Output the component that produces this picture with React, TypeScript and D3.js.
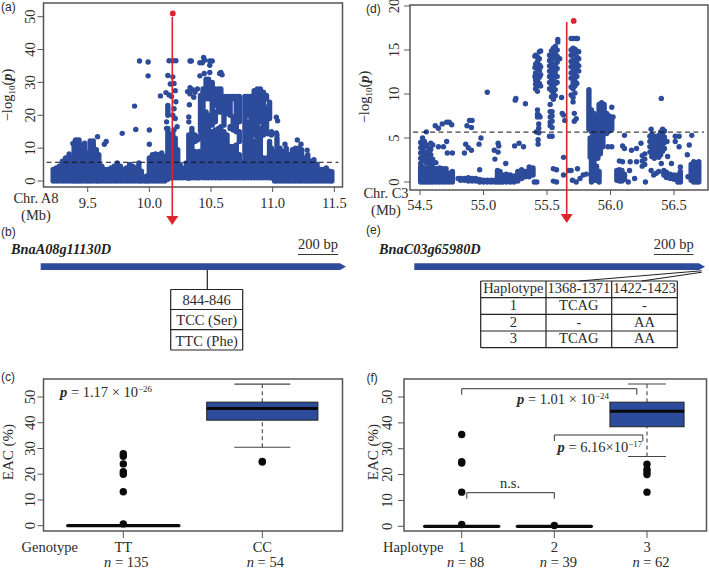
import * as d3 from 'd3';

const BLUE = '#2d4b9b';
const RED = '#d9252b';
const INK = '#2b2b2b';
const FRAME = '#555555';
const SERIF = '"Liberation Serif", serif';
const SANS = '"Liberation Sans", sans-serif';

// [position Mb, low, high] stretches where the SNP dots overplot into a solid mass
type Run = [number, number, number];
type Pt = [number, number];
// [position Mb, values] columns of single dots
type Stack = [number, number[]];

const massA: Run[] = [
  [9.22, 0, 3.5], [9.245, 0, 4], [9.27, 0, 4.5], [9.295, 0, 6], [9.32, 0, 7], [9.345, 0, 7.5], [9.37, 0, 7],
  [9.39, 0, 10.5], [9.41, 0, 12.5], [9.43, 0, 12.5], [9.45, 0, 9.5], [9.475, 0, 11.5], [9.5, 0, 8.5],
  [9.52, 0, 12.2], [9.545, 0, 12.2], [9.57, 0, 9.5], [9.59, 0, 8], [9.615, 0, 4.5], [9.64, 0, 3.5],
  [9.665, 0, 3.5], [9.69, 0, 4], [9.715, 0, 4.5], [9.74, 0, 5.5], [9.765, 0, 4.5], [9.79, 0, 3.5],
  [9.815, 0, 4], [9.84, 0, 5], [9.865, 0, 4.5], [9.89, 0, 4], [9.915, 0, 5.5], [9.935, 0, 3], [9.96, 0, 1.2],
  [9.98, 0, 1.5], [10.0, 0, 7], [10.025, 0, 8], [10.05, 0, 8.2], [10.075, 0, 8], [10.1, 0, 8.5], [10.125, 0, 7.5],
  [10.15, 0.5, 16], [10.17, 1, 14], [10.19, 1, 14.5], [10.21, 1, 13], [10.23, 1, 9.5], [10.25, 1, 5],
  [10.275, 1, 3.8], [10.3, 1, 5.5], [10.32, 0.8, 14], [10.345, 1, 16], [10.37, 1, 9], [10.37, 12, 14],
  [10.39, 1, 8], [10.39, 12.5, 13.5], [10.405, 1, 9], [10.41, 13, 13.5], [10.415, 15, 26], [10.435, 1, 28], [10.46, 1, 21], [10.46, 25, 31],
  [10.48, 1, 20], [10.48, 25, 31], [10.51, 1, 15], [10.51, 17, 30], [10.535, 1, 15.5], [10.535, 18, 21], [10.535, 23, 28],
  [10.56, 1, 16], [10.56, 21, 28], [10.58, 1, 16.5], [10.58, 21, 28], [10.605, 1, 15], [10.605, 17, 25.7],
  [10.63, 1, 14], [10.63, 20.5, 25.7], [10.655, 1, 10.5], [10.655, 16, 16.5], [10.655, 20, 25.7],
  [10.68, 1, 10.5], [10.68, 15.5, 19.5], [10.68, 25, 25.7], [10.705, 1, 11], [10.705, 15, 25.7],
  [10.73, 1, 8], [10.73, 12, 15], [10.73, 18, 25.7], [10.755, 1, 5.5],
  [10.775, 1, 25.7], [10.8, 1, 18], [10.8, 20, 25.7], [10.825, 1, 25.7], [10.85, 1, 12], [10.85, 14, 27.5], [10.875, 1, 28], [10.9, 1, 16],
  [10.9, 18, 28], [10.925, 1, 7], [10.925, 14, 27], [10.95, 1, 7], [10.95, 14.5, 22], [10.95, 25, 26], [10.975, 1, 12], [10.975, 19, 24],
  [10.99, 1, 10], [10.99, 14, 15], [11.005, 1, 9], [11.015, 0, 3.5], [11.035, 0, 13], [11.06, 0, 10],
  [11.085, 0, 9], [11.11, 0, 10], [11.135, 0, 8], [11.16, 0, 9.5], [11.185, 0, 10], [11.21, 0, 10],
  [11.235, 0, 9.5], [11.26, 0, 7], [11.285, 0, 8], [11.31, 0, 6], [11.335, 0, 6.5], [11.36, 0, 5],
  [11.385, 0, 3.5], [11.41, 0, 3.5], [11.435, 0, 4], [11.46, 0, 3], [11.48, 0, 2.8],
  [10.15, 20, 23],
];

const dotsA: Pt[] = [
  [9.92, 36.5], [9.99, 36.2], [9.99, 32], [9.88, 22.8], [9.89, 15.7], [9.78, 14.5], [10.0, 15.5], [10.0, 11.2],
  [9.58, 13.5], [9.65, 12], [9.635, 11.2], [9.35, 8.2], [10.09, 25.9], [10.16, 36.6], [10.19, 36.6], [10.215, 36.6],
  [10.15, 32.1], [10.19, 31.7], [10.17, 29.5], [10.2, 29.7], [10.21, 27.5], [10.135, 26.9], [10.16, 26.2],
  [10.18, 25.7], [10.215, 24.1], [10.21, 19], [10.225, 16.5], [10.2, 15.5], [10.33, 36.5], [10.34, 36.5],
  [10.41, 36], [10.44, 37.6], [10.45, 36.8], [10.49, 36.5], [10.51, 36.5], [10.43, 36], [10.49, 35.2],
  [10.41, 32], [10.445, 32.7], [10.49, 33], [10.58, 33], [10.59, 32.3], [10.57, 32.7], [10.33, 28.4], [10.35, 27.8],
  [10.31, 27.2], [10.33, 26.5], [10.36, 25.5], [10.37, 27], [10.39, 28], [10.325, 23.2], [10.32, 19.5], [10.32, 18],
  [11.03, 19.4], [11.04, 18.3], [11.035, 14], [11.03, 14.6], [11.1, 11.2], [11.2, 12.5], [11.23, 11.2], [11.28, 9.4],
  [10.96, 14.4], [10.96, 19], [10.97, 23], [9.4, 12.4], [9.38, 11.4], [9.44, 11],
  [10.14, 18], [10.14, 16], [10.2, 22], [10.19, 20],
];

const massD: Run[] = [
  [54.505, 0, 1.7], [54.525, 0, 1.7], [54.545, 0, 1.5], [54.565, 0, 1.6], [54.585, 0, 1.7], [54.605, 0, 1.6],
  [54.63, 0, 1.5], [54.655, 0, 1.6], [54.68, 0, 1.5], [54.705, 0, 1.5], [54.73, 0, 1], [54.755, 0, 1.2],
  [54.82, 0.2, 0.4], [54.85, 0.2, 0.4], [54.88, 0.1, 0.5], [54.91, 0.1, 0.4], [54.94, 0.1, 0.4], [54.97, 0, 0.3],
  [55.0, 0, 0.2], [55.03, 0, 0.2], [55.06, 0, 0.2], [55.09, 0, 0.2], [55.11, 0, 1.3], [55.13, 0, 1.2],
  [55.15, 0, 0.8], [55.18, 0, 0.9], [55.21, 0, 0.8], [55.24, 0, 0.7], [55.27, 0.1, 1.2], [55.3, 0.4, 1.4],
  [55.33, 0.6, 1.2], [55.36, 0.6, 1.7], [55.39, 0.8, 1.6],
  [55.83, 6, 10.5], [55.85, 5.7, 8.2], [55.87, 5.5, 7.8], [55.89, 5.7, 7.5], [55.91, 5.5, 8.8], [55.93, 5.5, 9],
  [55.95, 5.7, 8.8], [55.97, 5.5, 7.8], [55.99, 5.8, 7.5], [56.01, 6, 7],
  [55.84, 2.8, 5], [55.86, 2.5, 5.2], [55.88, 2.6, 4.8], [55.9, 2.7, 5.2], [55.92, 3.2, 5], [55.94, 4, 5.4],
  [55.85, 0, 2.4], [55.87, 0.2, 2.2], [55.89, 0.2, 1.8], [55.91, 0, 1.2],
  [56.05, 0.2, 1.3], [56.07, 0.1, 1.4], [56.09, 0.1, 1.3], [56.11, 0.3, 0.9],
  [56.42, 0.8, 1.3], [56.44, 0.5, 1.1], [56.47, 0.4, 0.9], [56.5, 0.3, 0.8], [56.53, 0, 0.8], [56.55, 0, 0.9],
  [56.635, 0.2, 2], [56.655, 0, 2.3], [56.675, 0, 2.2], [56.695, 0, 2.3],
];

const stacksD: Stack[] = [
  [54.505, [4.5, 3.9, 3.3, 2.7, 2.1]],
  [54.52, [5, 4.3, 3.6, 3, 2.4]],
  [54.535, [4.6, 4, 3.2, 2.6]],
  [54.55, [4.2, 3.4, 2.8, 2.2]],
  [54.57, [3.8, 3.2, 2.6, 2]],
  [54.585, [4.4, 3.7, 3.1, 2.5, 1.9]],
  [54.6, [4.2, 2.6, 2.1]],
  [55.405, [14.3, 13, 12]],
  [55.41, [14.4, 13.4, 12.4, 11.6, 11.1, 10.6]],
  [55.425, [14.2, 13.7, 12.9, 12.1, 11.5, 10.9, 10.3, 8.2, 7.7, 7.4]],
  [55.44, [14.8, 14, 13.3, 12.7, 11.9, 11.2]],
  [55.45, [14.9, 13.1, 12.2, 10.9]],
  [55.435, [7.6, 6.6, 6.1, 5.6]],
  [55.445, [7.4]],
  [55.43, [4.8, 4.3]],
  [55.52, [14.4, 13.8, 13.2, 12.6, 12, 11.3, 10.6, 5.2]],
  [55.535, [14.9, 14.2, 13.5, 13, 12.4, 11.7, 11.1, 10.4, 9.7]],
  [55.55, [15.2, 14.6, 14, 13.4, 12.8, 12.1, 11.5, 10.8, 10.1, 9.4]],
  [55.565, [15.4, 14.7, 14.1, 13.3, 12.5, 11.9, 11.2, 10.5, 9.8]],
  [55.58, [15, 14.3, 13.6, 12.9, 12, 11.3]],
  [55.6, [14]],
  [55.585, [16.2, 15.9]],
  [55.525, [8.8, 8, 7.4, 6.8, 6.4]],
  [55.54, [8, 7.5, 6.9, 6.2, 5.2]],
  [55.69, [16.3, 15, 14.4, 13.7, 13.1, 12.4, 11.8, 10.8, 9.9]],
  [55.705, [15.2, 14.6, 13.9, 13.3, 12.6, 12, 11.3, 10.6, 9.6, 9.1]],
  [55.71, [16.3]],
  [55.72, [15.1, 14.5, 13.8, 13, 12.3, 11.5, 10.9, 10.1]],
  [55.73, [16.3]],
  [55.735, [14.9, 14.2, 13.5, 12.8, 12, 11.2]],
  [55.74, [16.3]],
  [55.75, [14.8, 14, 13.2, 12.6]],
  [56.25, [3, 2.4, 1.8]],
  [56.27, [3.2, 2.6, 2]],
  [56.31, [5.2, 4.6, 4, 3.4]],
  [56.325, [5.4, 4.8, 4.1, 3.5, 2.9]],
  [56.345, [5.2, 4.5, 3.9, 3.2, 2.7]],
  [56.36, [4.9, 4.3, 3.6, 3]],
  [56.38, [5.3, 4.7, 4, 3.4, 2.8]],
  [56.395, [5.7, 5, 4.4, 3.7, 3.1]],
  [56.41, [6, 5.4, 4.8, 4.2, 3.5]],
  [56.425, [5.8, 5.1, 4.5, 3.8]],
];

const dotsD: Pt[] = [
  [55.03, 10.2], [55.25, 9.3], [55.255, 9.5], [55.33, 8.9], [54.55, 5.7], [54.62, 6.4], [54.645, 6.1], [54.675, 6.6],
  [54.71, 6.8], [54.73, 6.8], [54.75, 6.5], [54.87, 6.4], [54.89, 7], [54.91, 7], [54.905, 6.2], [54.98, 5], [54.965, 4.3],
  [54.86, 4.3], [54.88, 3.9], [54.905, 3.6], [54.85, 3.3], [54.645, 4], [54.685, 4], [54.71, 4.6], [54.715, 3.3],
  [54.755, 3.3], [54.625, 2.2], [55.115, 4.4], [55.12, 4.1], [55.085, 3.6], [55.115, 3.4], [55.09, 2.6], [55.175, 2.1],
  [54.97, 1.4], [55.245, 4.1], [55.28, 4.4], [55.315, 4], [55.55, 1.5], [55.575, 1.4], [55.55, 0.1], [55.575, 0],
  [55.63, 0.8], [55.67, 1.3], [55.69, 1.3], [55.74, 1.5], [55.7, 0.2], [55.73, 0], [55.76, 0.4], [55.785, 0.8], [55.81, 0.9],
  [55.4, 0], [55.42, 0], [55.615, 9.6], [55.63, 7.6], [55.62, 7.8], [55.64, 7], [55.63, 2.8], [55.715, 7.8], [55.715, 6.9],
  [55.73, 7.2], [56.0, 7.3], [56.02, 7.4], [56.01, 8.5], [55.98, 4], [56.01, 4], [56.095, 4.1], [56.11, 3.8], [56.165, 3.6],
  [56.205, 3.8], [56.24, 4.4], [56.11, 5.3], [56.07, 2.4], [56.095, 2.3], [56.155, 2.3], [56.205, 2.3], [56.19, 0.4],
  [56.15, 1.3], [56.14, 0], [56.275, 0], [56.32, 1.3], [56.36, 1], [56.34, 0.8], [56.38, 1.2], [56.4, 2.1], [56.45, 2.9],
  [56.48, 2.1], [56.445, 4.6], [56.4, 9.5], [56.32, 6], [56.51, 5.2], [56.54, 4], [56.51, 4.6], [56.62, 4.2], [56.605, 3.1],
  [56.64, 5.3], [56.55, 1.7], [56.55, 1.2], [56.61, 0.6], [56.54, 5.2], [55.415, 5.7], [54.8, 0.4],
];

const leadA: Pt = [10.19, 51];
const leadD: Pt = [55.71, 18.3];
const thresholdA = 5.7;
const thresholdD = 5.67;

const yTicksA = [0, 10, 20, 30, 40, 50];
const xTicksA = [9.5, 10, 10.5, 11, 11.5];
const yTicksD = [0, 5, 10, 15, 20];
const xTicksD = [54.5, 55, 55.5, 56, 56.5];

const eacTicks = [0, 10, 20, 30, 40, 50];
const genotypes = ['TT', 'CC'];
const genotypeN = [135, 54];
const haplotypes = ['1', '2', '3'];
const haplotypeN = [88, 39, 62];

// q1, median, q3, whisker low, whisker high
const boxC = [null, [41, 45.5, 48, 30.5, 55]];
const outC = [[0.7, 13.2, 20, 21, 24, 27, 28], [24.7, 25]];
const boxF = [null, null, [38.5, 44.5, 48, 27, 55]];
const outF = [[0.7, 13.2, 24.5, 25, 35.5], [0.3], [13.2, 20, 21, 22, 24]];

function Rot({ x, y, size = 14.5, children, fill = INK }: any) {
  return (
    <text transform={`translate(${x},${y}) rotate(-90)`} textAnchor="middle" fontSize={size} fill={fill} fontFamily={SERIF}>
      {children}
    </text>
  );
}

function Manhattan({ frame, xs, ys, mass, dots, lead, threshold, xTicks, yTicks, tickY, yLabelX, logX, logY, arrow, fmt }: any) {
  return (
    <g>
      {mass.map(([p, lo, hi]: Run, i: number) => (
        <line key={i} x1={xs(p)} x2={xs(p)} y1={ys(lo)} y2={ys(hi)} stroke={BLUE} strokeWidth={5.4} strokeLinecap="round" />
      ))}
      {dots.map(([p, v]: Pt, i: number) => (
        <circle key={i} cx={xs(p)} cy={ys(v)} r={2.7} fill={BLUE} />
      ))}
      <line x1={frame.x0 + 3} x2={frame.x1 - 4} y1={ys(threshold)} y2={ys(threshold)} stroke="#111" strokeWidth={1} strokeDasharray="5,3.5" />
      <rect x={frame.x0} y={frame.y0} width={frame.x1 - frame.x0} height={frame.y1 - frame.y0} fill="none" stroke={FRAME} strokeWidth={1.5} />
      {yTicks.map((t: number) => (
        <g key={t}>
          <line x1={frame.x0 - 6} x2={frame.x0} y1={ys(t)} y2={ys(t)} stroke={FRAME} strokeWidth={1} />
          <Rot x={yLabelX} y={ys(t)}>{t}</Rot>
        </g>
      ))}
      {xTicks.map((t: number) => (
        <g key={t}>
          <line x1={xs(t)} x2={xs(t)} y1={frame.y1} y2={frame.y1 + 5} stroke={FRAME} strokeWidth={1} />
          <text x={xs(t)} y={tickY} textAnchor="middle" fontSize={14.5} fill={INK} fontFamily={SERIF}>{fmt(t)}</text>
        </g>
      ))}
      <text transform={`translate(${logX},${logY}) rotate(-90)`} textAnchor="middle" fontSize={14.5} fill={INK} fontFamily={SERIF}>
        −log
        <tspan fontSize={9} dy={3}>10</tspan>
        <tspan dy={-3}>(</tspan>
        <tspan fontWeight="bold" fontStyle="italic">p</tspan>)
      </text>
      {/* lead SNP and the arrow down to the gene */}
      <circle cx={xs(lead[0])} cy={ys(lead[1])} r={2.9} fill={RED} />
      <line x1={arrow.x} x2={arrow.x} y1={arrow.y0} y2={arrow.y1 - 8} stroke={RED} strokeWidth={1.6} />
      <path d={`M${arrow.x - 6},${arrow.y1 - 9}L${arrow.x + 6},${arrow.y1 - 9}L${arrow.x},${arrow.y1}Z`} fill={RED} />
    </g>
  );
}

function Pvalue({ x, y, value, exp, gap = ' ', size = 14.5 }: any) {
  return (
    <text x={x} y={y} fontSize={size} fill={INK} fontFamily={SERIF}>
      <tspan fontWeight="bold" fontStyle="italic">p</tspan>
      {` = ${value}${gap}×${gap}10`}
      <tspan fontSize={9} dy={-5}>{exp}</tspan>
    </text>
  );
}

function BoxPanel({ frame, xs, ys, labels, ns, boxes, outliers, tickLabelX, eacX, axisName, axisX, nOffset, capHalf }: any) {
  const half = (xs(2) - xs(1)) * 0.4;
  return (
    <g>
      <rect x={frame.x0} y={frame.y0} width={frame.x1 - frame.x0} height={frame.y1 - frame.y0} fill="none" stroke={FRAME} strokeWidth={1.5} />
      {eacTicks.map((t) => (
        <g key={t}>
          <line x1={frame.x0 - 6} x2={frame.x0} y1={ys(t)} y2={ys(t)} stroke={FRAME} strokeWidth={1} />
          <Rot x={tickLabelX} y={ys(t)}>{t}</Rot>
        </g>
      ))}
      <Rot x={eacX} y={452} size={15}>EAC (%)</Rot>
      <text x={axisX} y={551.5} fontSize={14.5} fill={INK} fontFamily={SERIF}>{axisName}</text>
      {labels.map((lab: string, i: number) => {
        const cx = xs(i + 1);
        const box = boxes[i];
        return (
          <g key={lab}>
            <line x1={cx} x2={cx} y1={frame.y1} y2={frame.y1 + 7} stroke={FRAME} strokeWidth={1} />
            <text x={cx} y={551.5} textAnchor="middle" fontSize={14.5} fill={INK} fontFamily={SERIF}>{lab}</text>
            <text x={cx + nOffset} y={566.5} textAnchor="middle" fontSize={14.5} fill={INK} fontFamily={SERIF}>
              <tspan fontStyle="italic">n</tspan>{` = ${ns[i]}`}
            </text>
            {box ? (
              <g>
                <line x1={cx} x2={cx} y1={ys(box[3])} y2={ys(box[0])} stroke="#444" strokeWidth={1.1} strokeDasharray="4,3" />
                <line x1={cx} x2={cx} y1={ys(box[2])} y2={ys(box[4])} stroke="#444" strokeWidth={1.1} strokeDasharray="4,3" />
                <line x1={cx - capHalf} x2={cx + capHalf} y1={ys(box[3])} y2={ys(box[3])} stroke="#444" strokeWidth={1.1} />
                <line x1={cx - capHalf} x2={cx + capHalf} y1={ys(box[4])} y2={ys(box[4])} stroke="#444" strokeWidth={1.1} />
                <rect x={cx - half} width={half * 2} y={ys(box[2])} height={ys(box[0]) - ys(box[2])} fill={BLUE} stroke="#222" strokeWidth={1} />
                <line x1={cx - half} x2={cx + half} y1={ys(box[1])} y2={ys(box[1])} stroke="#0a0a0a" strokeWidth={3} />
              </g>
            ) : (
              <line x1={cx - half} x2={cx + half} y1={ys(0)} y2={ys(0)} stroke="#0a0a0a" strokeWidth={3.2} strokeLinecap="round" />
            )}
            {outliers[i].map((v: number, k: number) => (
              <circle key={k} cx={cx} cy={ys(v)} r={3.7} fill="#0a0a0a" />
            ))}
          </g>
        );
      })}
    </g>
  );
}

function Gene({ name, nameX, x0, x1, barX0, barX1 }: any) {
  const top = 263.3;
  const bot = 270;
  return (
    <g>
      <text x={nameX} y={254} fontSize={14.3} fontWeight="bold" fontStyle="italic" fill="#222" fontFamily={SERIF}>{name}</text>
      <text x={(barX0 + barX1) / 2} y={249} textAnchor="middle" fontSize={14.5} fill={INK} fontFamily={SERIF}>200 bp</text>
      <line x1={barX0} x2={barX1} y1={254.5} y2={254.5} stroke="#333" strokeWidth={1} />
      <path d={`M${x0},${top}L${x1 - 6},${top}L${x1},${(top + bot) / 2}L${x1 - 6},${bot}L${x0},${bot}Z`} fill={BLUE} />
    </g>
  );
}

function Table({ xEdges, yEdges, rows, fontSize = 14.5 }: any) {
  return (
    <g>
      {xEdges.map((x: number) => (
        <line key={x} x1={x} x2={x} y1={yEdges[0]} y2={yEdges[yEdges.length - 1]} stroke="#222" strokeWidth={1.2} />
      ))}
      {yEdges.map((y: number) => (
        <line key={y} x1={xEdges[0]} x2={xEdges[xEdges.length - 1]} y1={y} y2={y} stroke="#222" strokeWidth={1.2} />
      ))}
      {rows.map((row: string[], r: number) =>
        row.map((cell, c) => (
          <text key={`${r}-${c}`} x={(xEdges[c] + xEdges[c + 1]) / 2} y={yEdges[r + 1] - 4.5} textAnchor="middle" fontSize={fontSize} fill={INK} fontFamily={SERIF}>
            {cell}
          </text>
        ))
      )}
    </g>
  );
}

function Bracket({ xs, ys, from, to, level, drop = 6 }: any) {
  const y = ys(level);
  return <path d={`M${xs(from)},${y + drop}V${y}H${xs(to)}V${y + drop}`} fill="none" stroke="#333" strokeWidth={1} />;
}

export default function App() {
  const xA = d3.scaleLinear().domain([9.5, 11.5]).range([87.7, 334.3]);
  const yA = d3.scaleLinear().domain([0, 50]).range([181, 16.7]);
  const xD = d3.scaleLinear().domain([54.5, 56.5]).range([420, 674]);
  const yD = d3.scaleLinear().domain([0, 20]).range([182, 6]);
  const xC = d3.scaleLinear().domain([1, 2]).range([123.3, 262.3]);
  const yC = d3.scaleLinear().domain([0, 50]).range([525.7, 397]);
  const xF = d3.scaleLinear().domain([1, 3]).range([461.7, 647]);
  const yF = d3.scaleLinear().domain([0, 50]).range([526.3, 397]);

  const allDotsD: Pt[] = dotsD.concat(stacksD.flatMap(([p, vs]) => vs.map((v): Pt => [p, v])));

  const panelLabels: [string, number, number][] = [
    ['(a)', 1, 11], ['(b)', 1, 235.5], ['(c)', 1, 381], ['(d)', 366, 12.5], ['(e)', 366, 233.5], ['(f)', 366.5, 381.5],
  ];

  return (
    <svg width={709} height={568} style={{ position: 'absolute', left: 0, top: 0, background: '#fff' }}>
      {panelLabels.map(([t, x, y]) => (
        <text key={t} x={x} y={y} fontSize={12} fill={INK} fontFamily={SANS}>{t}</text>
      ))}

      <Manhattan
        frame={{ x0: 43.5, x1: 342.5, y0: 3, y1: 187 }}
        xs={xA} ys={yA} mass={massA} dots={dotsA} lead={leadA} threshold={thresholdA}
        xTicks={xTicksA} yTicks={yTicksA} tickY={208} yLabelX={35} logX={11.5} logY={95}
        arrow={{ x: 172.3, y0: 17, y1: 225 }} fmt={d3.format('.1f')}
      />
      <text x={36} y={202.5} textAnchor="middle" fontSize={14.5} fill={INK} fontFamily={SERIF}>Chr. A8</text>
      <text x={36} y={220} textAnchor="middle" fontSize={14.5} fill={INK} fontFamily={SERIF}>(Mb)</text>

      <Manhattan
        frame={{ x0: 410, x1: 708, y0: 5, y1: 190 }}
        xs={xD} ys={yD} mass={massD} dots={allDotsD} lead={leadD} threshold={thresholdD}
        xTicks={xTicksD} yTicks={yTicksD} tickY={210} yLabelX={399} logX={369} logY={97}
        arrow={{ x: 566.7, y0: 22, y1: 223 }} fmt={d3.format('.1f')}
      />
      <text x={386} y={198} textAnchor="middle" fontSize={14.5} fill={INK} fontFamily={SERIF}>Chr. C3</text>
      <text x={386} y={215} textAnchor="middle" fontSize={14.5} fill={INK} fontFamily={SERIF}>(Mb)</text>

      <Gene name="BnaA08g11130D" nameX={11} x0={40.7} x1={346} barX0={298} barX1={338} />
      <line x1={207.3} x2={207.3} y1={270} y2={289.5} stroke="#222" strokeWidth={1.2} />
      <Table
        xEdges={[170.7, 242.7]}
        yEdges={[289.5, 309.5, 329.7, 350]}
        rows={[['844-846'], ['TCC (Ser)'], ['TTC (Phe)']]}
      />

      <Gene name="BnaC03g65980D" nameX={379} x0={414.3} x1={705} barX0={654} barX1={693.5} />
      <path d="M579.3,281L701.7,270.7M641.7,281L701.7,272.3" fill="none" stroke="#222" strokeWidth={1.1} />
      <Table
        xEdges={[480.7, 546, 611.7, 677.3]}
        yEdges={[281, 297.7, 314.3, 331, 347.7]}
        rows={[['Haplotype', '1368-1371', '1422-1423'], ['1', 'TCAG', '-'], ['2', '-', 'AA'], ['3', 'TCAG', 'AA']]}
      />

      <BoxPanel
        frame={{ x0: 43.5, x1: 342.5, y0: 379, y1: 531 }}
        xs={xC} ys={yC} labels={genotypes} ns={genotypeN} boxes={boxC} outliers={outC}
        tickLabelX={35} eacX={13} axisName="Genotype" axisX={21.5} nOffset={3} capHalf={28}
      />
      <Pvalue x={60} y={397} value="1.17" exp="−26" />

      <BoxPanel
        frame={{ x0: 404, x1: 706.5, y0: 379, y1: 531 }}
        xs={xF} ys={yF} labels={haplotypes} ns={haplotypeN} boxes={boxF} outliers={outF}
        tickLabelX={392} eacX={378} axisName="Haplotype" axisX={383} nOffset={4} capHalf={19}
      />
      <Bracket xs={xF} ys={yF} from={1} to={2.89} level={53.2} />
      <Bracket xs={xF} ys={yF} from={2} to={2.955} level={35.3} />
      <Bracket xs={xF} ys={yF} from={1.055} to={2} level={13} />
      <Pvalue x={517} y={404} value="1.01" exp="−24" />
      <Pvalue x={557.5} y={451.5} value="6.16" exp="−17" gap="" />
      <text x={510} y={488} textAnchor="middle" fontSize={14.5} fill={INK} fontFamily={SERIF}>n.s.</text>
    </svg>
  );
}
